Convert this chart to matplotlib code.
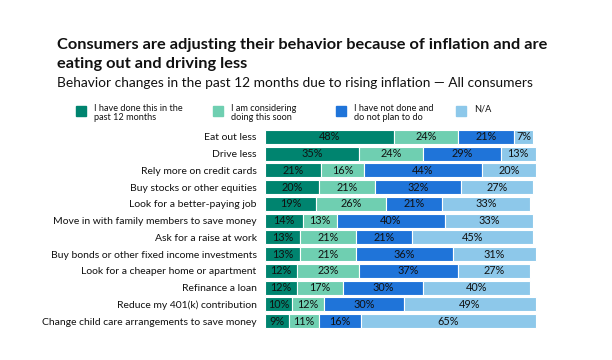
import matplotlib.pyplot as plt
from matplotlib.patches import Rectangle

plt.rcParams['font.family'] = ['Lato', 'DejaVu Sans']

categories = [
    "Eat out less",
    "Drive less",
    "Rely more on credit cards",
    "Buy stocks or other equities",
    "Look for a better-paying job",
    "Move in with family members to save money",
    "Ask for a raise at work",
    "Buy bonds or other fixed income investments",
    "Look for a cheaper home or apartment",
    "Refinance a loan",
    "Reduce my 401(k) contribution",
    "Change child care arrangements to save money",
]
done = [48, 35, 21, 20, 19, 14, 13, 13, 12, 12, 10, 9]
considering = [24, 24, 16, 21, 26, 13, 21, 21, 23, 17, 12, 11]
not_done = [21, 29, 44, 32, 21, 40, 21, 36, 37, 30, 30, 16]
na = [7, 13, 20, 27, 33, 33, 45, 31, 27, 40, 49, 65]

series = [done, considering, not_done, na]
series_names = ["I have done this in the\npast 12 months",
                "I am considering\ndoing this soon",
                "I have not done and\ndo not plan to do",
                "N/A"]
colors = ["#00846f", "#6fcfb1", "#1f74d9", "#8dc8ea"]

W, H = 612, 360
fig = plt.figure(figsize=(W / 100, H / 100), dpi=100)

# axes: bar area starts at x=265px, rows centred from y=137 to y=321
top, bot = 128.5, 329.5
ax = fig.add_axes([265 / W, 1 - bot / H, 276 / W, (bot - top) / H])

y = list(range(len(categories)))
left = [0] * len(categories)
for vals, col in zip(series, colors):
    bars = ax.barh(y, vals, left=left, height=0.84, color=col,
                   edgecolor="white", linewidth=0.8)
    for b, v in zip(bars, vals):
        ax.text(b.get_x() + b.get_width() / 2, b.get_y() + b.get_height() / 2,
                f"{v}%", ha="center", va="center", fontsize=7.8, color="#111111")
    left = [l + v for l, v in zip(left, vals)]

ax.set_xlim(0, 103)
ax.set_ylim(len(categories) - 0.5, -0.5)
ax.set_yticks(y)
ax.set_yticklabels(categories, fontsize=7.5, color="#111111")
ax.tick_params(axis="y", length=0, pad=6)
ax.set_xticks([])
for s in ax.spines.values():
    s.set_visible(False)

# titles
fig.text(57 / W, 1 - 45 / H, "Consumers are adjusting their behavior because of inflation and are",
         fontsize=11.8, fontweight="bold", va="center", ha="left", color="#111111")
fig.text(57 / W, 1 - 64 / H, "eating out and driving less",
         fontsize=11.8, fontweight="bold", va="center", ha="left", color="#111111")
fig.text(57 / W, 1 - 83 / H, "Behavior changes in the past 12 months due to rising inflation \u2014 All consumers",
         fontsize=9.9, va="center", ha="left", color="#111111")

# legend
leg_x = [76, 213, 336, 456]
for x0, name, col in zip(leg_x, series_names, colors):
    fig.patches.append(Rectangle((x0 / W, 1 - 116 / H), 10 / W, 10 / H,
                                 transform=fig.transFigure, color=col))
    fig.text((x0 + 18) / W, 1 - 104 / H, name, fontsize=6.6, va="top", ha="left",
             color="#111111", linespacing=1.0)

fig.savefig("out.png", dpi=100)
